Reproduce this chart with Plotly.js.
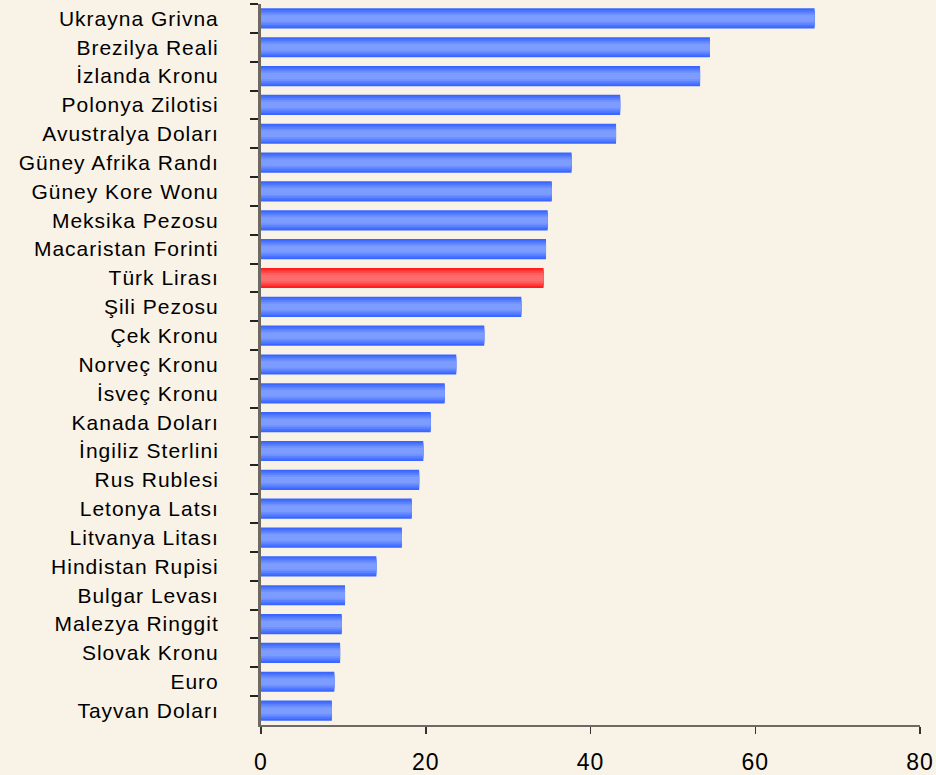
<!DOCTYPE html>
<html><head><meta charset="utf-8">
<script src="https://cdn.plot.ly/plotly-3.0.1.min.js"></script>
<style>html,body{margin:0;padding:0;background:#f9f2e7;}#chart{width:936px;height:775px;}
#chart .ytick text{letter-spacing:1px;}
#chart .xtick text{letter-spacing:1px;}
</style>
</head><body><div id="chart"></div>
<script>
const categories = ["Ukrayna Grivna","Brezilya Reali","İzlanda Kronu","Polonya Zilotisi","Avustralya Doları","Güney Afrika Randı","Güney Kore Wonu","Meksika Pezosu","Macaristan Forinti","Türk Lirası","Şili Pezosu","Çek Kronu","Norveç Kronu","İsveç Kronu","Kanada Doları","İngiliz Sterlini","Rus Rublesi","Letonya Latsı","Litvanya Litası","Hindistan Rupisi","Bulgar Levası","Malezya Ringgit","Slovak Kronu","Euro","Tayvan Doları"];
const values = [67.2,54.5,53.3,43.6,43.1,37.7,35.3,34.8,34.6,34.3,31.6,27.1,23.7,22.3,20.6,19.7,19.2,18.3,17.1,14.0,10.2,9.8,9.6,8.9,8.6];
const highlight = "Türk Lirası";
const xTicks = [0,20,40,60,80];

const layers = [
  {w:0.70, blue:"#3a66ff", red:"#ff1c1c"},
  {w:0.58, blue:"#4a74ff", red:"#ff3434"},
  {w:0.46, blue:"#5c83ff", red:"#ff4a4a"},
  {w:0.34, blue:"#6e91ff", red:"#ff5c5c"},
  {w:0.22, blue:"#7c9cff", red:"#ff6a6a"}
];
const traces = layers.map(l => ({
  type:"bar", orientation:"h", x: values, y: categories,
  width: l.w,
  marker:{color: categories.map(c => c === highlight ? l.red : l.blue), line:{width:0}},
  hoverinfo:"x+y", showlegend:false
}));

const layout = {
  width:936, height:775,
  paper_bgcolor:"#f9f2e7", plot_bgcolor:"#f9f2e7",
  margin:{l:261, r:16, t:4, b:50},
  barmode:"overlay",
  font:{family:"Liberation Sans, Arial, sans-serif", color:"#000"},
  xaxis:{range:[0,80], tickvals:xTicks, ticktext:xTicks.map(String),
    showgrid:false, zeroline:false, showline:true, linecolor:"#6e6a63", linewidth:2,
    ticks:"outside", ticklen:7, tickcolor:"#333", tickwidth:1.5,
    tickfont:{size:23}, ticklabelstandoff:8, fixedrange:true},
  yaxis:{autorange:"reversed", type:"category", showgrid:false, zeroline:false,
    showline:true, linecolor:"#6e6a63", linewidth:3,
    ticks:"outside", tickson:"boundaries", ticklen:8, tickcolor:"#222", tickwidth:2,
    tickfont:{size:21}, ticklabelstandoff:35}
};
Plotly.newPlot("chart", traces, layout, {displayModeBar:false, staticPlot:true});
</script></body></html>
